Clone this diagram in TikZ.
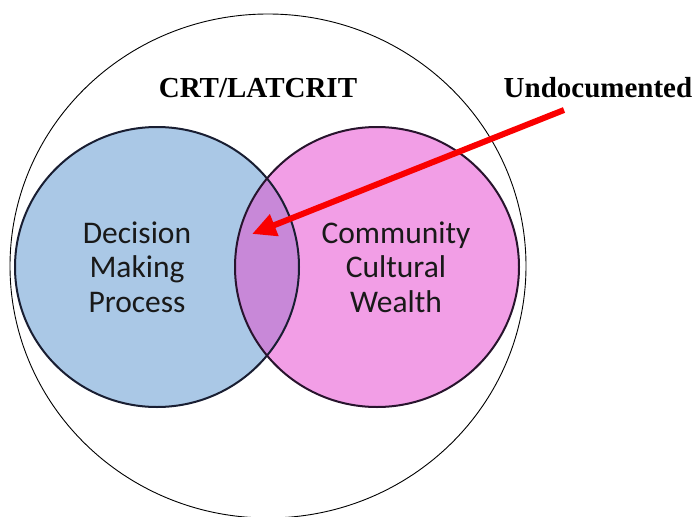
\documentclass[tikz,border=0pt]{standalone}
\usepackage{fontspec}
\setmainfont{Liberation Serif}
\newfontfamily\calibri{Carlito}
\usepackage{tikz}
\usetikzlibrary{shapes.geometric, arrows.meta, positioning}
\definecolor{dmpcolor}{RGB}{170,200,230}
\definecolor{ccwcolor}{RGB}{242,158,230}
\definecolor{overlapcolor}{RGB}{200,136,216}
\definecolor{dmpedge}{RGB}{25,30,50}
\definecolor{ccwedge}{RGB}{40,20,45}
\definecolor{arrowcolor}{RGB}{250,0,0}
\begin{document}
\begin{tikzpicture}[
    x=1pt, y=-1pt,
    set/.style={draw=#1, line width=2pt, ellipse, minimum width=284pt, minimum height=280pt, inner sep=0pt},
    label/.style={font=\calibri\fontsize{31.5}{34.5}\selectfont, align=center, text=black!90},
    heading/.style={font=\bfseries\fontsize{29}{34}\selectfont},
    arrow/.style={-{Triangle[length=24pt, width=22pt]}, line width=6pt, arrowcolor}
]
    \useasboundingbox (0,0) rectangle (697,517);
    \node[draw, line width=0.9pt, ellipse, minimum width=516pt, minimum height=504pt, inner sep=0pt] (crt) at (268,266) {};
    \node[heading] (crtlabel) at (258,88) {CRT/LATCRIT};
    \node[heading] (undoc) at (598,88) {Undocumented};

    % the two sets, overlap drawn on top
    \fill[dmpcolor] (157,267) ellipse [x radius=142, y radius=140];
    \fill[ccwcolor] (377,267) ellipse [x radius=142, y radius=140];
    \begin{scope}
        \clip (157,267) ellipse [x radius=142, y radius=140];
        \fill[overlapcolor] (377,267) ellipse [x radius=142, y radius=140];
    \end{scope}
    \node[set=dmpedge] (dmp) at (157,267) {};
    \node[set=ccwedge] (ccw) at (377,267) {};
    \node[label] (dmplabel) at (137,267) {Decision\\Making\\Process};
    \node[label] (ccwlabel) at (396,267) {Community\\Cultural\\Wealth};

    \coordinate (tail) at (564,110);
    \coordinate (tip) at (252,234);
    \draw[arrow] (tail) -- (tip);
\end{tikzpicture}
\end{document}
